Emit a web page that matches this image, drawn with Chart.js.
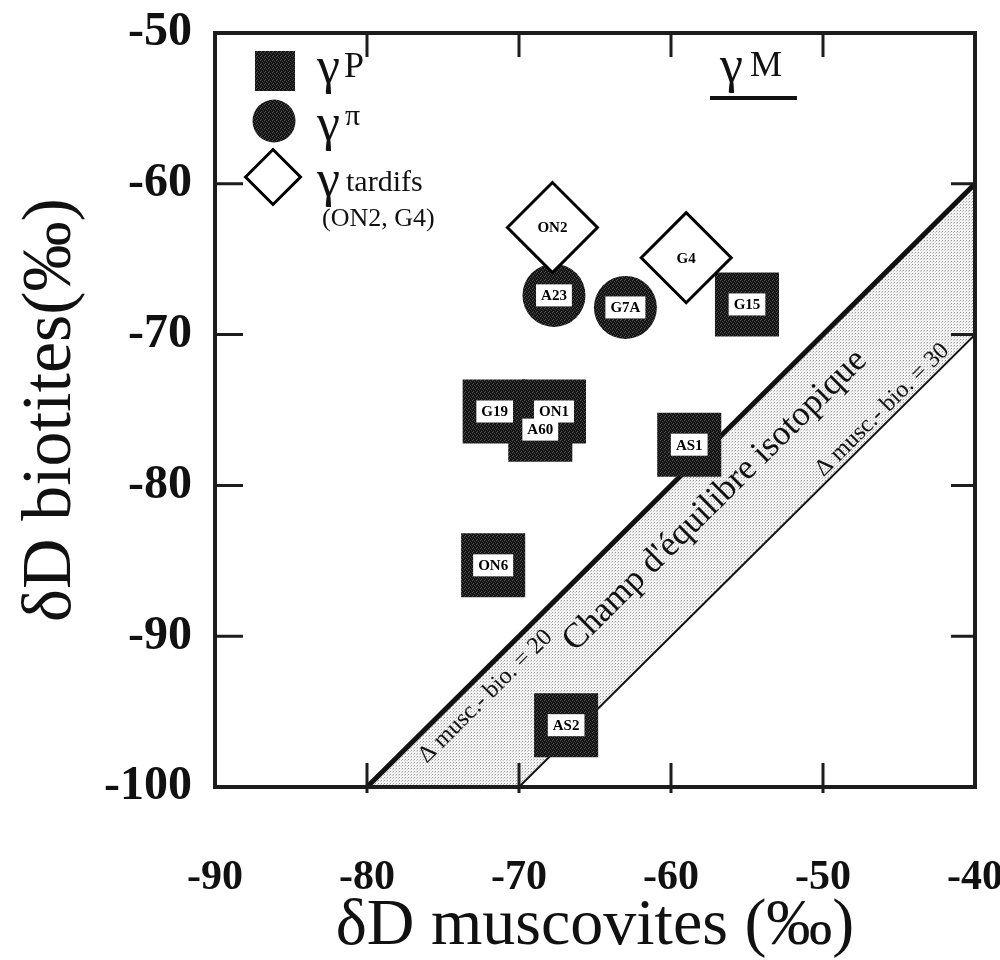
<!DOCTYPE html>
<html><head><meta charset="utf-8">
<script src="https://cdn.jsdelivr.net/npm/chart.js@4/dist/chart.umd.min.js"></script>
<style>html,body{margin:0;padding:0;background:#fff}</style>
</head><body>
<canvas id="c" width="1000" height="960"></canvas>
<script>
// ---- axis ticks ----
const xTickValues = [-90, -80, -70, -60, -50, -40];
const yTickValues = [-50, -60, -70, -80, -90, -100];
const xInnerTicks = [-80, -70, -60, -50];
const yInnerTicks = [-60, -70, -80, -90];

// ---- γP granites (squares) ----
const pLabels = ['G15', 'G19', 'ON1', 'A60', 'AS1', 'ON6', 'AS2'];
const pX = [-55.0, -71.6, -67.7, -68.6, -58.8, -71.7, -66.9];
const pY = [-68.0, -75.1, -75.1, -76.3, -77.3, -85.3, -95.9];

// ---- γπ granites (circles) ----
const piLabels = ['A23', 'G7A'];
const piX = [-67.7, -63.0];
const piY = [-67.4, -68.2];

// ---- γ tardifs (diamonds) ----
const tLabels = ['ON2', 'G4'];
const tX = [-67.8, -59.0];
const tY = [-62.9, -64.9];

// ---- isotopic equilibrium lines ----
const line20X = [-80, -40];
const line20Y = [-100, -60];
const line30X = [-70, -40];
const line30Y = [-100, -70];

const pts = (xs, ys) => xs.map((x, i) => ({x: x, y: ys[i]}));
const band = pts(line20X, line20Y).concat(pts(line30X, line30Y).reverse());

function makePattern(size, base, dots) {
  const cv = document.createElement('canvas');
  cv.width = size; cv.height = size;
  const g = cv.getContext('2d');
  g.fillStyle = base; g.fillRect(0, 0, size, size);
  dots.forEach(d => { g.fillStyle = d[2]; g.fillRect(d[0], d[1], 1, 1); });
  return g.createPattern(cv, 'repeat');
}
const darkFill = makePattern(4, '#151515', [[0,0,'#555'],[2,1,'#444'],[1,3,'#505050'],[3,2,'#3a3a3a']]);
const lightFill = makePattern(3, '#f3f3f3', [[0,0,'#9a9a9a'],[2,1,'#c8c8c8']]);

const SERIF = '"Liberation Serif", "Times New Roman", serif';

const annot = {
  id: 'annot',
  afterDatasetsDraw(chart) {
    const c = chart.ctx;
    const xs = chart.scales.x, ys = chart.scales.y;
    // band texts
    const ang = Math.atan2(ys.getPixelForValue(-60) - ys.getPixelForValue(-100),
                           xs.getPixelForValue(-40) - xs.getPixelForValue(-80));
    const txt = (s, dx, dy, font) => {
      c.save();
      c.translate(xs.getPixelForValue(dx), ys.getPixelForValue(dy));
      c.rotate(ang);
      c.font = font; c.fillStyle = '#111';
      c.textAlign = 'center'; c.textBaseline = 'middle';
      c.fillText(s, 0, 0);
      c.restore();
    };
    txt("Champ d'équilibre isotopique", -57.1, -81.0, '35px ' + SERIF);
    txt('Δ musc.- bio. = 20', -72.2, -94.0, '24px ' + SERIF);
    txt('Δ musc.- bio. = 30', -46.1, -75.0, '24px ' + SERIF);

    // sample labels
    c.save();
    c.font = 'bold 15px ' + SERIF;
    c.textAlign = 'center'; c.textBaseline = 'middle';
    [[0, tLabels], [1, piLabels], [2, pLabels]].forEach(([di, labs]) => {
      chart.getDatasetMeta(di).data.forEach((pt, i) => {
        const t = labs[i];
        const w = c.measureText(t).width + 10, h = 22;
        c.fillStyle = '#fff';
        c.fillRect(pt.x - w / 2, pt.y - h / 2, w, h);
        c.fillStyle = '#000';
        c.fillText(t, pt.x, pt.y + 1);
      });
    });
    c.restore();
  },
  afterDraw(chart) {
    const c = chart.ctx;
    const a = chart.chartArea;
    const xs = chart.scales.x, ys = chart.scales.y;
    c.save();
    c.strokeStyle = '#1c1c1c';
    c.lineWidth = 4;
    c.strokeRect(a.left, a.top, a.right - a.left, a.bottom - a.top);
    c.lineWidth = 3;
    c.beginPath();
    xInnerTicks.forEach(v => {
      const p = xs.getPixelForValue(v);
      c.moveTo(p, a.bottom + 6); c.lineTo(p, a.bottom - 24);
      c.moveTo(p, a.top); c.lineTo(p, a.top + 24);
    });
    yInnerTicks.forEach(v => {
      const p = ys.getPixelForValue(v);
      c.moveTo(a.left, p); c.lineTo(a.left + 28, p);
      c.moveTo(a.right, p); c.lineTo(a.right - 24, p);
    });
    c.stroke();

    // legend
    c.fillStyle = darkFill;
    c.fillRect(255, 51, 40, 40);
    c.beginPath(); c.arc(274, 121, 21.5, 0, Math.PI * 2); c.fill();
    c.beginPath();
    c.moveTo(245.5, 177); c.lineTo(273, 149.5); c.lineTo(300.5, 177); c.lineTo(273, 204.5); c.closePath();
    c.fillStyle = '#fff'; c.fill();
    c.strokeStyle = '#000'; c.lineWidth = 3; c.stroke();

    c.fillStyle = '#111';
    c.textAlign = 'left'; c.textBaseline = 'alphabetic';
    c.font = '52px ' + SERIF;
    c.fillText('γ', 317, 83);
    c.fillText('γ', 317, 140);
    c.fillText('γ', 317, 196);
    c.font = '36px ' + SERIF;
    c.fillText('P', 344, 77);
    c.font = '30px ' + SERIF;
    c.fillText('π', 345, 125);
    c.fillText('tardifs', 346, 191);
    c.font = '26px ' + SERIF;
    c.fillText('(ON2, G4)', 322, 226);

    // γM
    c.font = '52px ' + SERIF;
    c.fillText('γ', 720, 82);
    c.font = '36px ' + SERIF;
    c.fillText('M', 750, 76);
    c.fillRect(710, 96, 87, 4);
    c.restore();
  }
};

new Chart(document.getElementById('c'), {
  type: 'scatter',
  data: {
    datasets: [
      {label: 'γ tardifs', data: pts(tX, tY), pointStyle: 'rectRot', pointRadius: 45, pointHoverRadius: 45,
       backgroundColor: '#fff', borderColor: '#000', borderWidth: 3, order: 0},
      {label: 'γπ', data: pts(piX, piY), pointStyle: 'circle', pointRadius: 31.5, pointHoverRadius: 31.5,
       backgroundColor: darkFill, borderColor: '#222', borderWidth: 0, order: 1},
      {label: 'γP', data: pts(pX, pY), pointStyle: 'rect', pointRadius: 45.3, pointHoverRadius: 45.3,
       backgroundColor: darkFill, borderColor: '#222', borderWidth: 0, order: 2},
      {label: 'Δ = 20', data: pts(line20X, line20Y), showLine: true, pointRadius: 0,
       borderColor: '#111', borderWidth: 5, order: 3},
      {label: 'Δ = 30', data: pts(line30X, line30Y), showLine: true, pointRadius: 0,
       borderColor: '#111', borderWidth: 2, order: 4},
      {label: 'band', data: band, showLine: true, pointRadius: 0, fill: 'shape',
       backgroundColor: lightFill, borderColor: 'rgba(0,0,0,0)', borderWidth: 0, order: 5}
    ]
  },
  options: {
    responsive: false, animation: false, devicePixelRatio: 1, events: [],
    layout: {autoPadding: false, padding: {left: 0, right: 25, top: 33, bottom: 0}},
    plugins: {legend: {display: false}, tooltip: {enabled: false}},
    scales: {
      x: {
        type: 'linear', min: -90, max: -40,
        grid: {display: false}, border: {display: false},
        ticks: {stepSize: 10, padding: 58, maxRotation: 0, color: '#111',
                font: {family: SERIF, size: 42, weight: 'bold'},
                callback: v => String(v)},
        title: {display: true, text: 'δD muscovites (‰)', color: '#111',
                font: {family: SERIF, size: 66, lineHeight: 1.0}, padding: {top: 0, bottom: 0}},
        afterFit(s) { s.height = 173; s.paddingLeft = 0; s.paddingRight = 0; }
      },
      y: {
        type: 'linear', min: -100, max: -50,
        grid: {display: false}, border: {display: false},
        ticks: {stepSize: 10, padding: 15, color: '#111',
                font: {family: SERIF, size: 48, weight: 'bold'},
                callback: v => String(v)},
        title: {display: true, text: 'δD biotites(‰)', color: '#111',
                font: {family: SERIF, size: 70}, padding: {top: 10, bottom: 0}},
        afterFit(s) { s.width = 215; s.paddingTop = 0; s.paddingBottom = 0; }
      }
    }
  },
  plugins: [annot]
});
</script>
</body></html>
